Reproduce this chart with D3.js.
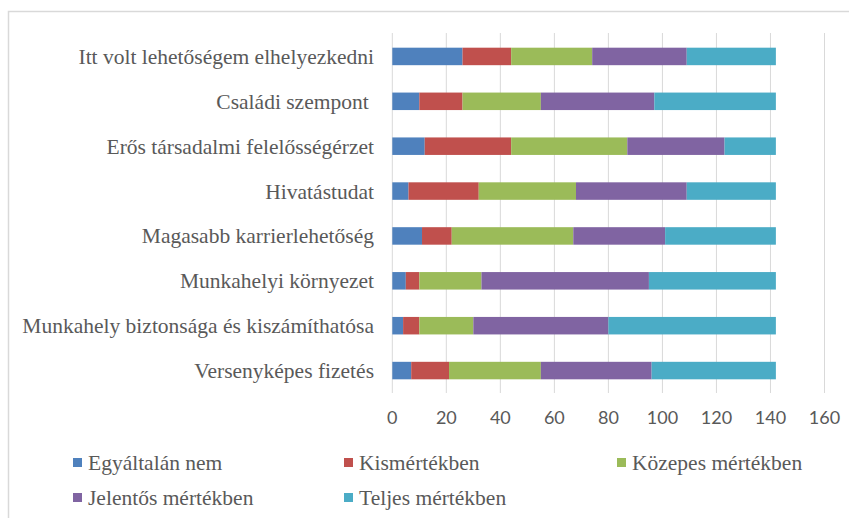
<!DOCTYPE html>
<head>
<style>
  body { margin: 0; background: #fff; }
</style>
</head>
<body>
<svg id="chart" width="849" height="518"></svg>

<script src="https://d3js.org/d3.v7.min.js"></script>
<script>
    // data (top to bottom)
    let categories = [
        "Itt volt lehetőségem elhelyezkedni",
        "Családi szempont ",
        "Erős társadalmi felelősségérzet",
        "Hivatástudat",
        "Magasabb karrierlehetőség",
        "Munkahelyi környezet",
        "Munkahely biztonsága és kiszámíthatósa",
        "Versenyképes fizetés"
    ]
    let seriesNames = ["Egyáltalán nem", "Kismértékben", "Közepes mértékben", "Jelentős mértékben", "Teljes mértékben"]
    let egyaltalan = [26, 10, 12, 6, 11, 5, 4, 7]
    let kis        = [18, 16, 32, 26, 11, 5, 6, 14]
    let kozepes    = [30, 29, 43, 36, 45, 23, 20, 34]
    let jelentos   = [35, 42, 36, 41, 34, 62, 50, 41]
    let teljes     = [33, 45, 19, 33, 41, 47, 62, 46]
    let xTicks = [0, 20, 40, 60, 80, 100, 120, 140, 160]
    let colors = ["#4F81BD", "#C0504D", "#9BBB59", "#8064A2", "#4BACC6"]

    let allSeries = [egyaltalan, kis, kozepes, jelentos, teljes]
    let rows = categories.map((c, i) => {
        let r = { cat: c }
        seriesNames.forEach((s, j) => r[s] = allSeries[j][i])
        return r
    })

    let svg = d3.select("#chart")
    let serif = "'Liberation Serif', 'Times New Roman', serif"

    // outer frame (runs off the right and bottom edges)
    svg.append("rect")
        .attr("x", 8.5).attr("y", 11.5)
        .attr("width", 900).attr("height", 600)
        .attr("fill", "none")
        .attr("stroke", "#d9d9d9")
        .attr("stroke-width", 1.5)

    let x = d3.scaleLinear().domain([0, 160]).range([392.3, 824.5])
    let y = d3.scaleBand().domain(categories).range([34, 393])
        .paddingInner(0.61).paddingOuter(0.305)

    // gridlines
    svg.append("g").selectAll("line")
        .data(xTicks)
        .enter()
        .append("line")
        .attr("x1", d => x(d)).attr("x2", d => x(d))
        .attr("y1", 33).attr("y2", 393)
        .attr("stroke", "#d9d9d9")
        .attr("stroke-width", 1)

    let stack = d3.stack().keys(seriesNames)(rows)

    svg.append("g").selectAll("g")
        .data(stack)
        .enter()
        .append("g")
        .attr("fill", (d, i) => colors[i])
        .selectAll("rect")
        .data(d => d)
        .enter()
        .append("rect")
        .attr("x", d => x(d[0]))
        .attr("width", d => x(d[1]) - x(d[0]))
        .attr("y", d => y(d.data.cat))
        .attr("height", y.bandwidth())

    // category labels
    svg.append("g").selectAll("text")
        .data(categories)
        .enter()
        .append("text")
        .attr("x", 374)
        .attr("y", d => y(d) + y.bandwidth() / 2)
        .attr("dy", "0.35em")
        .attr("text-anchor", "end")
        .attr("font-family", serif)
        .attr("font-size", 21.5)
        .attr("fill", "#595959")
        .style("white-space", "pre")
        .text(d => d)

    // tick labels
    svg.append("g").selectAll("text")
        .data(xTicks)
        .enter()
        .append("text")
        .attr("x", d => x(d))
        .attr("y", 418)
        .attr("dy", "0.35em")
        .attr("text-anchor", "middle")
        .attr("font-family", "Lato, 'Open Sans', sans-serif")
        .attr("font-size", 18)
        .attr("fill", "#595959")
        .text(d => d)

    // legend
    let legendPos = [[73, 462], [344, 462], [617, 462], [73, 497], [344, 497]]
    let legend = svg.append("g").selectAll("g")
        .data(seriesNames)
        .enter()
        .append("g")
        .attr("transform", (d, i) => "translate(" + legendPos[i][0] + "," + legendPos[i][1] + ")")

    legend.append("rect")
        .attr("x", 0).attr("y", -4)
        .attr("width", 9).attr("height", 9)
        .attr("fill", (d, i) => colors[i])

    legend.append("text")
        .attr("x", 15)
        .attr("dy", "0.35em")
        .attr("font-family", serif)
        .attr("font-size", 21.5)
        .attr("fill", "#595959")
        .text(d => d)
</script>
</body>
